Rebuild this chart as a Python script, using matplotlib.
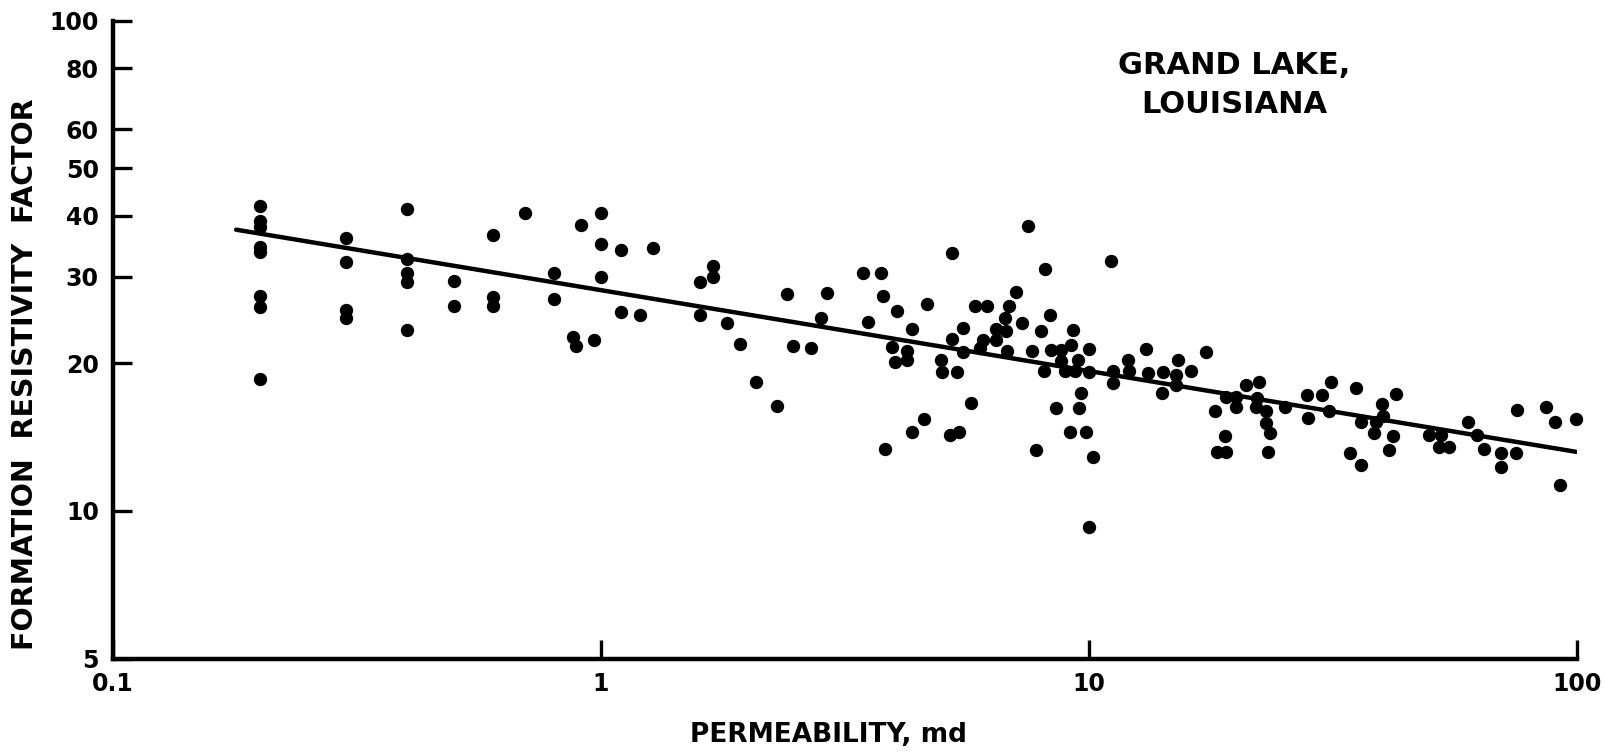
import numpy as np
import matplotlib
matplotlib.use("Agg")
import matplotlib.pyplot as plt
from matplotlib.ticker import NullLocator

# permeability (md) and formation resistivity factor
perm = [0.2, 0.2, 0.2, 0.2, 0.2, 0.2, 0.2, 0.2,
        0.3, 0.3, 0.3, 0.3,
        0.4, 0.4, 0.4, 0.4, 0.4,
        0.5, 0.5, 0.6, 0.6, 0.6, 0.7, 0.8, 0.8,
        0.875, 0.89, 0.91, 0.97, 1.0, 1.0, 1.0, 1.1, 1.1, 1.2, 1.28,
        1.6, 1.6, 1.7, 1.7, 1.81, 1.93, 2.08, 2.30, 2.41, 2.48, 2.69,
        2.83, 2.91, 3.45, 3.52, 3.75, 3.78, 3.82, 3.94, 4.0, 4.05,
        4.23, 4.24, 4.34, 4.34, 4.60, 4.65, 4.97, 5.01, 5.19, 5.23,
        5.23, 5.37, 5.41, 5.52, 5.52, 5.72, 5.83, 5.98, 6.07, 6.19,
        6.44, 6.44, 6.73, 6.77, 6.80, 6.87, 7.08, 7.29, 7.5, 7.66,
        7.80, 7.98, 8.09, 8.12, 8.34, 8.37, 8.54, 8.78, 8.78, 8.92,
        9.14, 9.17, 9.28, 9.35, 9.51, 9.53, 9.63, 9.88, 10.0, 10.0,
        10.0, 10.2, 11.1, 11.2, 11.2, 12.0, 12.1, 13.1, 13.2, 14.2,
        14.1, 15.2, 15.1, 15.1, 16.2, 17.4, 18.1, 19.1, 20.0, 20.0,
        19.0, 18.3, 19.1, 21.0, 22.3, 22.1, 22.0, 23.1, 23.0, 23.5,
        23.3, 25.2, 28.0, 28.1, 30.0, 31.3, 31.0, 34.3, 35.2, 36.0,
        36.0, 38.4, 38.8, 39.9, 40.0, 42.0, 41.2, 42.5, 49.7, 52.6,
        52.2, 54.6, 59.8, 62.4, 64.5, 69.8, 69.7, 74.9, 75.2, 86.3,
        90.0, 99.3, 92.3]
frf = [41.8, 39.1, 37.9, 34.6, 33.8, 27.4, 26.0, 18.6,
       36.1, 32.2, 25.7, 24.7,
       41.3, 32.6, 30.6, 29.3, 23.4,
       29.4, 26.2, 36.5, 27.3, 26.2, 40.5, 30.5, 27.0,
       22.6, 21.7, 38.3, 22.3, 40.5, 35.1, 30.0, 34.0, 25.5, 25.1, 34.4,
       29.3, 25.1, 31.6, 30.0, 24.2, 21.9, 18.3, 16.4, 27.7, 21.7, 21.5,
       24.8, 27.8, 30.5, 24.3, 30.5, 27.4, 13.4, 21.6, 20.1, 25.6,
       21.2, 20.3, 23.5, 14.5, 15.4, 26.4, 20.3, 19.2, 14.3, 33.6,
       22.4, 19.2, 14.5, 23.6, 21.1, 16.6, 26.2, 21.5, 22.3, 26.2,
       23.5, 22.3, 24.8, 23.3, 21.2, 26.2, 27.9, 24.2, 38.1, 21.2,
       13.3, 23.3, 19.3, 31.1, 25.1, 21.3, 16.2, 21.3, 20.2, 19.3,
       14.5, 21.8, 23.4, 19.3, 20.3, 16.2, 17.4, 14.5, 21.4, 19.2,
       9.28, 12.9, 32.4, 19.3, 18.2, 20.3, 19.3, 21.4, 19.1, 19.2,
       17.4, 20.3, 18.9, 18.1, 19.3, 21.1, 16.0, 17.1, 17.1, 16.3,
       14.2, 13.2, 13.2, 18.1, 18.3, 17.0, 16.3, 16.0, 15.1, 14.4,
       13.2, 16.3, 17.2, 15.5, 17.2, 18.3, 16.0, 13.1, 17.8, 15.2,
       12.4, 14.4, 15.2, 16.5, 15.6, 14.2, 13.3, 17.3, 14.3, 14.3,
       13.5, 13.5, 15.2, 14.3, 13.4, 13.1, 12.3, 13.1, 16.1, 16.3,
       15.2, 15.4, 11.3]

# fitted line F = a * k^b, drawn from k_start to k_end
fit_a = 28.2
fit_b = -0.165
k_start, k_end = 0.179, 99.5

xticks = [0.1, 1, 10, 100]
xticklabels = ["0.1", "1", "10", "100"]
yticks = [5, 10, 20, 30, 40, 50, 60, 80, 100]
yticklabels = [str(v) for v in yticks]

plt.rcParams['font.family'] = ['DejaVu Sans']
plt.rcParams['font.weight'] = 'bold'

fig = plt.figure(figsize=(16.06, 7.55), dpi=100)
ax = fig.add_axes([0.0702, 0.1277, 0.9118, 0.8451])

ax.plot(perm, frf, 'o', color='black', markersize=8.6, clip_on=False)
k_line = np.array([k_start, k_end])
ax.plot(k_line, fit_a * k_line**fit_b, color='black', lw=3.2,
        solid_capstyle='round')

ax.set_xscale('log')
ax.set_yscale('log')
ax.set_xlim(0.1, 100)
ax.set_ylim(5, 100)
ax.set_xticks(xticks)
ax.set_xticklabels(xticklabels)
ax.set_yticks(yticks)
ax.set_yticklabels(yticklabels)
ax.xaxis.set_minor_locator(NullLocator())
ax.yaxis.set_minor_locator(NullLocator())
ax.tick_params(direction='in', length=14, width=2.4, labelsize=17, pad=10)

for s in ['top', 'right']:
    ax.spines[s].set_visible(False)
for s in ['left', 'bottom']:
    ax.spines[s].set_linewidth(3.2)

ax.set_xlabel('PERMEABILITY, md', fontsize=19, fontweight='bold')
ax.set_ylabel('FORMATION  RESISTIVITY  FACTOR', fontsize=20.5, fontweight='bold')
ax.xaxis.set_label_coords(0.489, -0.099)
ax.yaxis.set_label_coords(-0.0503, 0.446)

ax.text(0.766, 0.899, 'GRAND LAKE,\nLOUISIANA', transform=ax.transAxes,
        ha='center', va='center', fontsize=22, fontweight='bold',
        linespacing=1.4)

fig.savefig('out.png', dpi=100, facecolor='white')
